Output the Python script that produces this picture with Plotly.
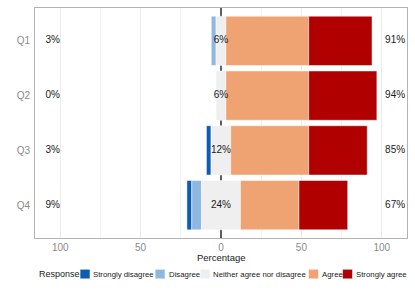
import numpy as np
import plotly.graph_objects as go

items = ["Q1", "Q2", "Q3", "Q4"]
levels = ["Strongly disagree", "Disagree", "Neither agree nor disagree", "Agree", "Strongly agree"]
strongly_disagree = [0.0, 0.0, 3.0, 3.0]
disagree = [3.0, 0.0, 0.0, 6.1]
neutral = [6.1, 6.1, 12.1, 24.2]
agree = [51.5, 51.5, 48.5, 36.4]
strongly_agree = [39.4, 42.4, 36.4, 30.3]
colors = ["#0d5cb3", "#8fb8e1", "#efefef", "#efa372", "#b10000"]
x_ticks = [-100, -50, 0, 50, 100]
x_ticklabels = ["100", "50", "0", "50", "100"]

sd = np.array(strongly_disagree)
d = np.array(disagree)
n = np.array(neutral)
a = np.array(agree)
sa = np.array(strongly_agree)

low = sd + d
high = a + sa

FONT = "Liberation Sans, Arial, Helvetica, sans-serif"

fig = go.Figure()
bases = [-n / 2 - d - sd, -n / 2 - d, -n / 2, n / 2, n / 2 + a]
widths = [sd, d, n, a, sa]
for lvl, base, w, c in zip(levels, bases, widths, colors):
    fig.add_trace(go.Bar(
        y=items, x=w, base=base, orientation="h", name=lvl,
        marker=dict(color=c, line=dict(color="rgba(255,255,255,0.8)", width=0.6)),
        width=0.9, showlegend=False, hoverinfo="skip",
    ))

txtfont = dict(family=FONT, size=10, color="#1a1a1a")
for xpos, vals in [(-104.7, low), (0, n), (108.3, high)]:
    fig.add_trace(go.Scatter(y=items, x=[xpos] * len(items), mode="text",
                             text=[f"{v:.0f}%" for v in vals], textfont=txtfont,
                             textposition="middle center", showlegend=False,
                             hoverinfo="skip", cliponaxis=False))

# layout geometry
W, H = 415, 291
L, R, T, B = 35, 8.3, 8, 53.3
pw = W - L - R
ph = H - T - B

def px(xp):
    return (xp - L) / pw

def py(yp):
    return (H - B - yp) / ph

shapes = []
annotations = []
# axis title
annotations.append(dict(x=0.5, y=py(257.5), xref="paper", yref="paper", text="Percentage",
                        showarrow=False, xanchor="center", yanchor="middle",
                        font=dict(family=FONT, size=9.5, color="#1a1a1a")))
# manual legend
ly = 273.7
annotations.append(dict(x=px(36.7), y=py(ly), xref="paper", yref="paper", text="Response",
                        showarrow=False, xanchor="left", yanchor="middle",
                        font=dict(family=FONT, size=9, color="#1a1a1a")))
sq_left = [80, 155, 200, 308.3, 342.3]
txt_left = [91.3, 166.7, 211, 319.5, 354]
for lvl, c, sx, tx in zip(levels, colors, sq_left, txt_left):
    shapes.append(dict(type="rect", xref="paper", yref="paper",
                       x0=px(sx), x1=px(sx + 10), y0=py(ly + 4.8), y1=py(ly - 4.8),
                       fillcolor=c, line=dict(color="white", width=0.6)))
    annotations.append(dict(x=px(tx), y=py(ly), xref="paper", yref="paper", text=lvl,
                            showarrow=False, xanchor="left", yanchor="middle",
                            font=dict(family=FONT, size=7.8, color="#1a1a1a")))

fig.update_layout(
    width=W, height=H,
    margin=dict(l=L, r=R, t=T, b=B, autoexpand=False),
    paper_bgcolor="white", plot_bgcolor="white",
    barmode="overlay",
    shapes=shapes, annotations=annotations,
    font=dict(family=FONT),
)
fig.update_xaxes(
    range=[-115.7, 115.7], tickvals=x_ticks, ticktext=x_ticklabels,
    tickfont=dict(family=FONT, size=10, color="#8a8a8a"),
    showgrid=True, gridcolor="#ececec", gridwidth=0.8,
    minor=dict(tickvals=[-75, -25, 25, 75], showgrid=True, gridcolor="#f2f2f2", gridwidth=0.6),
    zeroline=True, zerolinecolor="#5e5e5e", zerolinewidth=1.6,
    showline=True, mirror=True, linecolor="#b3b3b3", linewidth=1,
    ticks="", automargin=False, fixedrange=True,
)
fig.update_yaxes(
    type="category", categoryorder="array", categoryarray=items,
    range=[3.6, -0.6],
    tickfont=dict(family=FONT, size=10, color="#8a8a8a"),
    showgrid=False, zeroline=False,
    showline=True, mirror=True, linecolor="#b3b3b3", linewidth=1,
    ticks="", ticklabelstandoff=2, automargin=False, fixedrange=True,
)

fig.write_html(
    "out.html",
    config={"displayModeBar": False},
    post_script="document.body.style.margin='0';document.body.style.overflow='hidden';",
)
